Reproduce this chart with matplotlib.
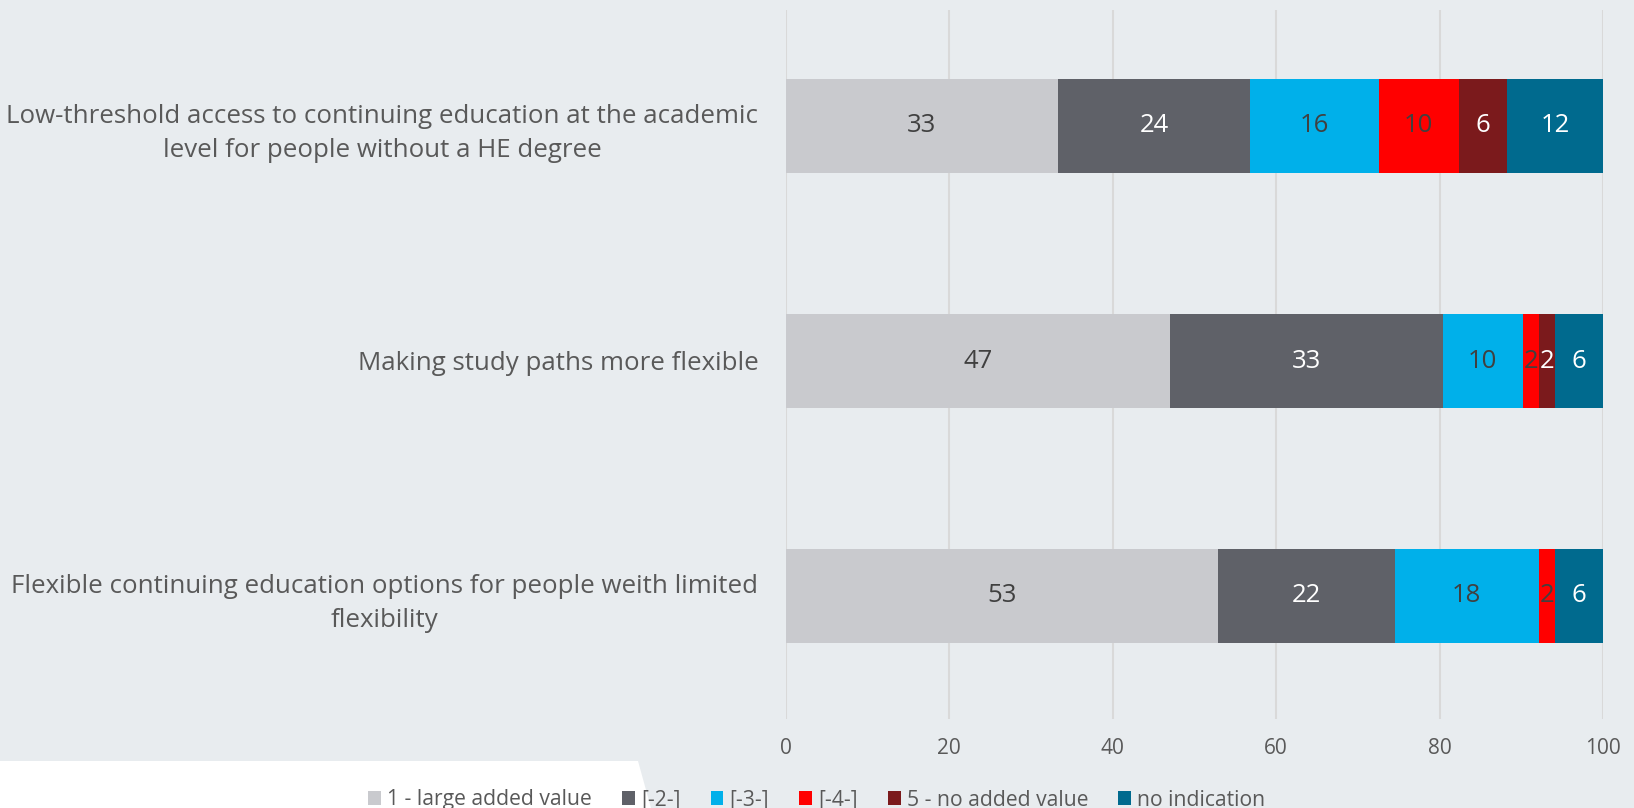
import matplotlib
matplotlib.use("Agg")
import matplotlib.pyplot as plt
from matplotlib.patches import Polygon
import numpy as np

plt.rcParams['font.family'] = ['Open Sans', 'DejaVu Sans']

categories = [
    "Low-threshold access to continuing education at the academic\nlevel for people without a HE degree",
    "Making study paths more flexible",
    "Flexible continuing education options for people weith limited\nflexibility",
]
series_names = ["1 - large added value", "[-2-]", "[-3-]", "[-4-]", "5 - no added value", "no indication"]
s1 = [33.33, 47.06, 52.94]
s2 = [23.53, 33.33, 21.57]
s3 = [15.69, 9.80, 17.65]
s4 = [9.80, 1.96, 1.96]
s5 = [5.88, 1.96, 0.0]
s6 = [11.76, 5.88, 5.88]
series = [s1, s2, s3, s4, s5, s6]
colors = ["#C9CACE", "#5F6168", "#00B0EA", "#FF0000", "#7B1A1C", "#006A8E"]
text_colors = ["#404040", "#FFFFFF", "#404040", "#404040", "#FFFFFF", "#FFFFFF"]
xticks = [0, 20, 40, 60, 80, 100]

bg = "#E8ECEF"
W, H = 1634, 808
fig = plt.figure(figsize=(16.34, 8.08), dpi=100, facecolor=bg)
ax = fig.add_axes([785.5/W, 1-719/H, (1603-785.5)/W, (719-10)/H])
ax.set_facecolor(bg)

# white bottom-left region
poly = Polygon([(0/W, 1-761/H), (638/W, 1-761/H), (651/W, 0), (0, 0)],
               closed=True, transform=fig.transFigure, facecolor="white",
               edgecolor="none", zorder=0)
fig.patches.append(poly)

y = np.arange(len(categories))
left = np.zeros(len(categories))
handles = []
for vals, name, c, tc in zip(series, series_names, colors, text_colors):
    vals = np.array(vals)
    bars = ax.barh(y, vals, left=left, height=0.40, color=c, label=name, zorder=3)
    handles.append(bars)
    for yi, (l, v) in enumerate(zip(left, vals)):
        if v > 0:
            ax.text(l + v/2, yi, f"{v:.0f}", ha="center", va="center",
                    color=tc, fontsize=18.5, zorder=4)
    left = left + vals

ax.set_xlim(0, 100)
ax.set_ylim(2 + 123/235, -116/235)
ax.set_xticks(xticks)
ax.set_xticklabels([str(t) for t in xticks])
ax.set_yticks(y)
ax.set_yticklabels(categories, multialignment="center", linespacing=1.47)
ax.tick_params(axis="y", length=0, pad=19.5, labelsize=18.6, labelcolor="#595959")
ax.tick_params(axis="x", length=0, pad=14, labelsize=15, labelcolor="#595959")
ax.grid(axis="x", color="#D9D9D9", linewidth=1.5, zorder=0)
ax.set_axisbelow(True)
for s in ax.spines.values():
    s.set_visible(False)

leg = fig.legend(handles=handles, labels=series_names, loc="center",
                 bbox_to_anchor=(0.5, 1-800/H), ncol=6, frameon=False,
                 fontsize=15.2, handlelength=0.6, handleheight=0.6,
                 handletextpad=0.3, columnspacing=1.42, labelcolor="#595959")

fig.savefig("out.png", dpi=100, facecolor=bg)
